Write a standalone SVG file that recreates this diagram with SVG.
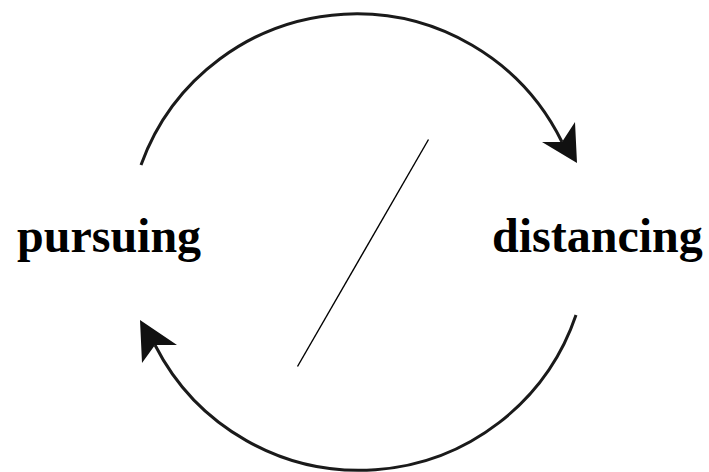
<svg xmlns="http://www.w3.org/2000/svg" width="709" height="472" viewBox="0 0 709 472">
<style>
.arc{fill:none;stroke:#1a1a1a;stroke-width:3}
.head{fill:#111;stroke:none}
.lbl{font-family:"Liberation Serif","Times New Roman",serif;font-weight:bold;font-size:48px;fill:#000}
.slash{stroke:#000;stroke-width:1.4}
</style>
<rect width="709" height="472" fill="#fff"/>
<g id="connectors">
<path class="arc" d="M141,165 A229,229 0 0 1 562,142"/>
<path class="head" d="M577,163 L542,142 L562,142 L575,122 Z"/>
<path class="arc" d="M576,315 A229,229 0 0 1 155,345"/>
<path class="head" d="M140,320 L177,345 L155,345 L142,363 Z"/>
<line class="slash" x1="428.5" y1="139.5" x2="297.5" y2="366.5"/>
</g>
<g id="pursuing"><text class="lbl" x="17" y="252">pursuing</text></g>
<g id="distancing"><text class="lbl" x="492" y="252">distancing</text></g>
</svg>
